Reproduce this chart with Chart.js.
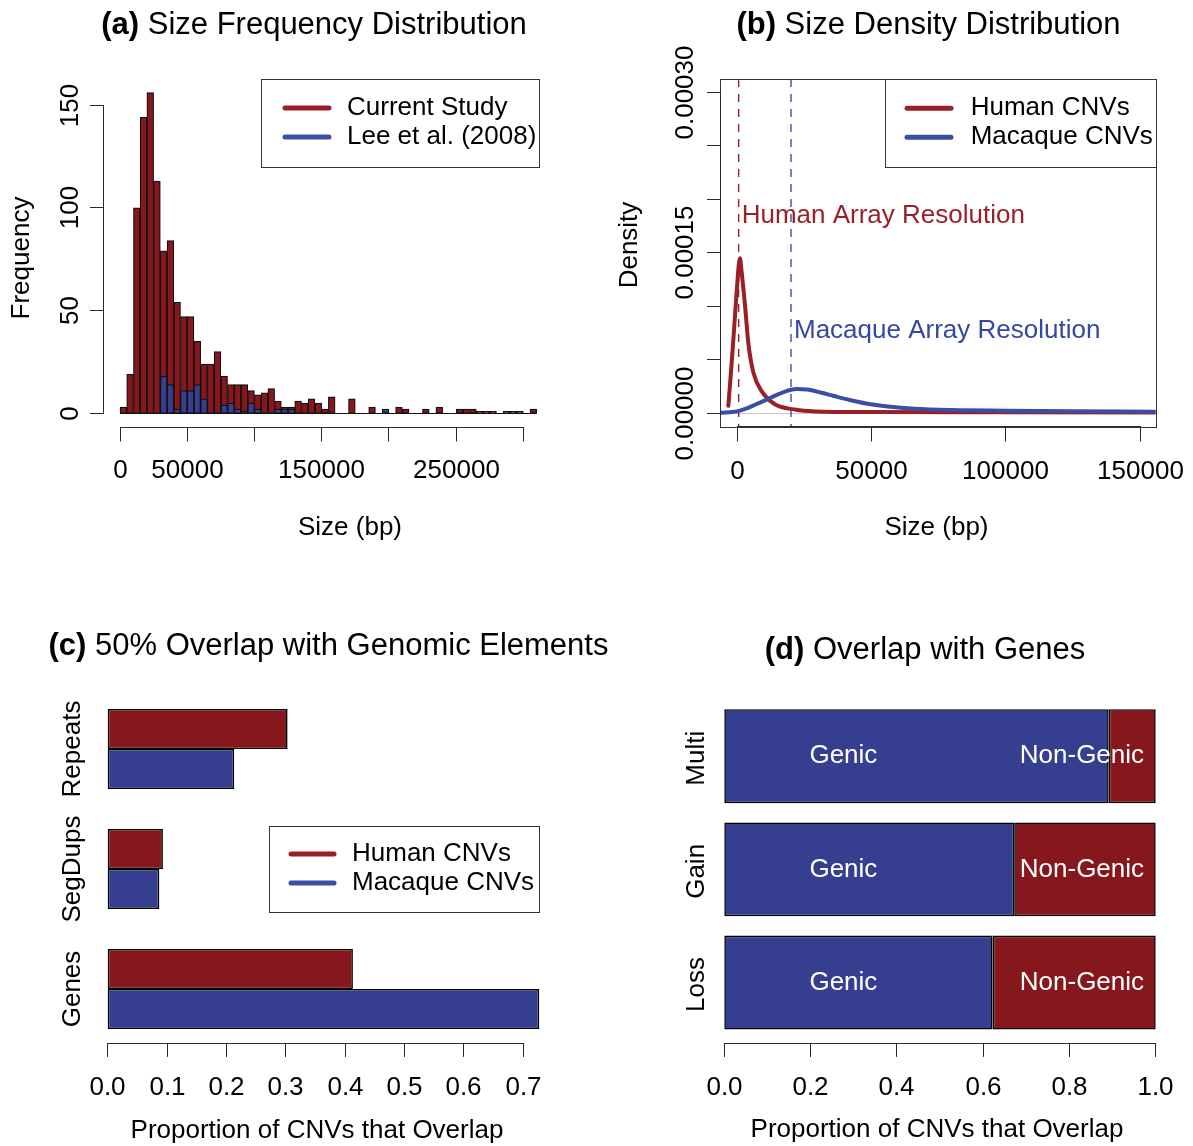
<!DOCTYPE html>
<html><head><meta charset="utf-8">
<script src="https://cdn.jsdelivr.net/npm/chart.js@4.4.0/dist/chart.umd.min.js"></script>
<style>
html,body{margin:0;padding:0;background:#fff;}
#wrap{position:relative;width:1193px;height:1146px;overflow:hidden;}
canvas{position:absolute;left:0;top:0;}
</style></head><body>
<div id="wrap">
<canvas id="ca" width="1193" height="1146"></canvas>
<canvas id="cb" width="1193" height="1146"></canvas>
<canvas id="cc" width="1193" height="1146"></canvas>
<canvas id="cd" width="1193" height="1146"></canvas>
</div>
<script>
// ---------------- DATA ----------------
// (a) histogram, 5 kb bins starting at 0
const binWidth = 5000;
const currentStudyCounts = [3,19,100,144,156,113,79,84,54,47,47,35,24,24,30,18,14,14,14,11,9,10,12,6,3,3,6,5,7,5,2,8,0,0,7,0,0,3,0,0,0,3,2,0,0,2,0,3,0,0,2,2,2,1,1,1,0,1,1,1,0,2];
const leeCounts          = [0,0,0,0,0,0,18,14,2,11,11,14,7,0,0,4,5,2,1,5,2,0,0,2,2,2,0,0,0,0,0,0,0,0,0,0,0,0,0,2,0,0,0,0,0,0,0,0,0,0,0,0,0,0,0,0,0,0,0,0,0,0];
const histXTicks = [0,50000,100000,150000,200000,250000,300000];
const histXLabels = ['0','50000','','150000','','250000',''];
const histYTicks = [0,50,100,150];
const histYLabels = ['0','50','100','150'];

// (b) density curves
const humanDensX = [-3350,-2400,-1500,-200,600,1000,1500,2900,4100,6000,9000,14000,21500,29000,50000,100000,155770];
const humanDensY = [0.000007,0.000037,0.000068,0.000115,0.00014,0.000145,0.000135,0.0001,0.000066,0.000038,0.000021,0.0000085,0.0000035,0.0000018,0.0000012,0.000001,0.0000008];
const macaqueDensX = [-6444,0,3500,7000,11000,15000,18500,22000,26000,31000,36000,41500,48000,56000,66000,80000,100000,125000,155770];
const macaqueDensY = [0.0000006,0.0000018,0.0000045,0.0000085,0.0000128,0.0000175,0.000021,0.0000228,0.0000222,0.0000195,0.0000162,0.0000127,0.0000092,0.0000064,0.0000042,0.000003,0.0000025,0.000002,0.0000015];
const humanResolution = 500;
const macaqueResolution = 20000;
const densXTicks = [0,50000,100000,150000];
const densXLabels = ['0','50000','100000','150000'];
const densYTicks = [0,0.00005,0.0001,0.00015,0.0002,0.00025,0.0003];
const densYLabels = ['0.00000','','','0.00015','','','0.00030'];

// (c) overlap with genomic elements
const elementCategories = ['Repeats','SegDups','Genes'];
const humanOverlap = [0.303,0.093,0.413];
const macaqueOverlap = [0.213,0.087,0.727];
const elementTicks = [0,0.1,0.2,0.3,0.4,0.5,0.6,0.7];

// (d) overlap with genes
const geneCategories = ['Multi','Gain','Loss'];
const genicShare = [0.891,0.672,0.622];
const nonGenicShare = [0.109,0.328,0.378];
const geneTicks = [0,0.2,0.4,0.6,0.8,1.0];

// ---------------- STYLE ----------------
const FONT = '"Liberation Sans", Arial, Helvetica, sans-serif';
const RED_BAR = '#86181d', BLUE_BAR = '#363f8f';
const RED_LINE = '#9b1f27', BLUE_LINE = '#3a4ea6';
const RED_TEXT = '#9a2026', BLUE_TEXT = '#3548a0';
const AX = '#2a2a2a';
const W = 1193, H = 1146;

function snap(v){ return Math.round(v - 0.5) + 0.5; }
function txt(ctx, s, x, y, o){
  o = o || {};
  ctx.save();
  ctx.font = (o.bold ? 'bold ' : '') + (o.size || 26) + 'px ' + FONT;
  ctx.fillStyle = o.color || '#000';
  ctx.textAlign = o.align || 'center';
  ctx.textBaseline = o.baseline || 'middle';
  ctx.translate(x, y);
  if (o.rot) ctx.rotate(o.rot);
  ctx.fillText(s, 0, 0);
  ctx.restore();
}
function seg(ctx, x1, y1, x2, y2, color, w, dash, cap){
  ctx.save();
  ctx.strokeStyle = color || AX;
  ctx.lineWidth = w || 1;
  ctx.lineCap = cap || 'butt';
  if (dash) ctx.setLineDash(dash);
  ctx.beginPath(); ctx.moveTo(x1, y1); ctx.lineTo(x2, y2); ctx.stroke();
  ctx.restore();
}
function panelTitle(ctx, tag, rest, cx, cy){
  const size = 31;
  ctx.save();
  ctx.font = 'bold ' + size + 'px ' + FONT; const w1 = ctx.measureText(tag).width;
  ctx.font = size + 'px ' + FONT; const w2 = ctx.measureText(' ' + rest).width;
  ctx.restore();
  const x0 = cx - (w1 + w2) / 2;
  txt(ctx, tag, x0, cy, {size: size, bold: true, align: 'left'});
  txt(ctx, ' ' + rest, x0 + w1, cy, {size: size, align: 'left'});
}
function xAxis(ctx, scale, ticks, labels, yLine, tickLen, labelY){
  const x1 = scale.getPixelForValue(ticks[0]), x2 = scale.getPixelForValue(ticks[ticks.length - 1]);
  const yl = snap(yLine);
  seg(ctx, snap(x1) - 0.5, yl, snap(x2) + 0.5, yl);
  ticks.forEach(function(t, i){
    const x = snap(scale.getPixelForValue(t));
    seg(ctx, x, yl, x, yl + tickLen);
    if (labels[i]) txt(ctx, labels[i], x, labelY);
  });
}
function yAxis(ctx, scale, ticks, labels, xLine, tickLen, labelX){
  const y1 = scale.getPixelForValue(ticks[0]), y2 = scale.getPixelForValue(ticks[ticks.length - 1]);
  const xl = snap(xLine);
  seg(ctx, xl, snap(y1) + 0.5, xl, snap(y2) - 0.5);
  ticks.forEach(function(t, i){
    const y = snap(scale.getPixelForValue(t));
    seg(ctx, xl, y, xl - tickLen, y);
    if (labels[i]) txt(ctx, labels[i], labelX, y, {rot: -Math.PI / 2});
  });
}
function legendBox(ctx, x1, y1, x2, y2, items, lx1, lx2, tx){
  ctx.save();
  ctx.fillStyle = '#fff';
  ctx.fillRect(x1, y1, x2 - x1, y2 - y1);
  ctx.strokeStyle = '#333'; ctx.lineWidth = 1;
  ctx.strokeRect(snap(x1), snap(y1), Math.round(x2 - x1), Math.round(y2 - y1));
  ctx.restore();
  items.forEach(function(it){
    seg(ctx, lx1, it.y, lx2, it.y, it.color, 5, null, 'round');
    txt(ctx, it.label, tx, it.y, {align: 'left'});
  });
}
function baseOpts(pad){
  return {
    responsive: false, animation: false, events: [],
    layout: {padding: pad},
    plugins: {legend: {display: false}, tooltip: {enabled: false}, title: {display: false}}
  };
}

// ---------------- (a) Size Frequency Distribution ----------------
const histCenters = currentStudyCounts.map(function(_, i){ return (i + 0.5) * binWidth; });
const optsA = baseOpts({left: 120, right: W - 523.3, top: 105, bottom: H - 413.3});
optsA.scales = {
  x: {type: 'linear', min: 0, max: 300000, offset: false, display: false},
  y: {type: 'linear', min: 0, max: 150, display: false}
};
new Chart(document.getElementById('ca'), {
  type: 'bar',
  data: {datasets: [
    {label: 'Lee et al. (2008)', data: leeCounts.map(function(v, i){ return {x: histCenters[i], y: v}; }),
     backgroundColor: BLUE_BAR, borderColor: '#111', borderWidth: 1.2, borderSkipped: false,
     grouped: false, order: 0, barPercentage: 1, categoryPercentage: 1, clip: false},
    {label: 'Current Study', data: currentStudyCounts.map(function(v, i){ return {x: histCenters[i], y: v}; }),
     backgroundColor: RED_BAR, borderColor: '#111', borderWidth: 1.2, borderSkipped: false,
     grouped: false, order: 1, barPercentage: 1, categoryPercentage: 1, clip: false}
  ]},
  options: optsA,
  plugins: [{
    id: 'decorA',
    afterDatasetsDraw: function(chart){
      const ctx = chart.ctx, sx = chart.scales.x, sy = chart.scales.y;
      const y0 = snap(sy.getPixelForValue(0));
      seg(ctx, sx.getPixelForValue(0), y0, sx.getPixelForValue(currentStudyCounts.length * binWidth), y0, '#111', 1.2);
    },
    afterDraw: function(chart){
      const ctx = chart.ctx, sx = chart.scales.x, sy = chart.scales.y;
      panelTitle(ctx, '(a)', 'Size Frequency Distribution', 314, 25);
      xAxis(ctx, sx, histXTicks, histXLabels, 427, 14, 471);
      yAxis(ctx, sy, histYTicks, histYLabels, 103.3, 13.5, 71);
      txt(ctx, 'Size (bp)', 350, 528);
      txt(ctx, 'Frequency', 22, 258, {rot: -Math.PI / 2});
      legendBox(ctx, 261.5, 79, 539, 167, [
        {label: 'Current Study', color: RED_LINE, y: 108},
        {label: 'Lee et al. (2008)', color: BLUE_LINE, y: 137}
      ], 285, 329, 347);
    }
  }]
});

// ---------------- (b) Size Density Distribution ----------------
const optsB = baseOpts({left: 720, right: W - 1155.5, top: 79, bottom: H - 426.7});
optsB.scales = {
  x: {type: 'linear', min: -6444, max: 155770, display: false},
  y: {type: 'linear', min: -0.00001252, max: 0.00031243, display: false}
};
optsB.elements = {point: {radius: 0}};
new Chart(document.getElementById('cb'), {
  type: 'line',
  data: {datasets: [
    {label: 'Macaque CNVs', data: macaqueDensX.map(function(x, i){ return {x: x, y: macaqueDensY[i]}; }),
     borderColor: BLUE_LINE, borderWidth: 4, fill: false, cubicInterpolationMode: 'monotone',
     borderCapStyle: 'round', borderJoinStyle: 'round', order: 0},
    {label: 'Human CNVs', data: humanDensX.map(function(x, i){ return {x: x, y: humanDensY[i]}; }),
     borderColor: RED_LINE, borderWidth: 4, fill: false, cubicInterpolationMode: 'monotone',
     borderCapStyle: 'round', borderJoinStyle: 'round', order: 1}
  ]},
  options: optsB,
  plugins: [{
    id: 'decorB',
    beforeDatasetsDraw: function(chart){
      const ctx = chart.ctx, sx = chart.scales.x, sy = chart.scales.y, a = chart.chartArea;
      const y0 = snap(sy.getPixelForValue(0));
      seg(ctx, a.left, y0, a.right, y0, '#c8c8c8', 1);
      const xr = sx.getPixelForValue(humanResolution), xm = sx.getPixelForValue(macaqueResolution);
      seg(ctx, xr, a.top, xr, a.bottom, RED_LINE, 1.4, [8, 7]);
      seg(ctx, xm, a.top, xm, a.bottom, BLUE_LINE, 1.4, [8, 7]);
    },
    afterDraw: function(chart){
      const ctx = chart.ctx, sx = chart.scales.x, sy = chart.scales.y, a = chart.chartArea;
      panelTitle(ctx, '(b)', 'Size Density Distribution', 928.5, 25);
      ctx.save(); ctx.strokeStyle = '#333'; ctx.lineWidth = 1;
      ctx.strokeRect(snap(a.left), snap(a.top), Math.round(a.right - a.left), Math.round(a.bottom - a.top));
      ctx.restore();
      xAxis(ctx, sx, densXTicks, densXLabels, a.bottom, 15, 471.5);
      yAxis(ctx, sy, densYTicks, densYLabels, a.left, 13.5, 686);
      txt(ctx, 'Size (bp)', 936.5, 528);
      txt(ctx, 'Density', 630, 245, {rot: -Math.PI / 2});
      txt(ctx, 'Human Array Resolution', sx.getPixelForValue(humanResolution) + 3, sy.getPixelForValue(0.000185), {align: 'left', color: RED_TEXT});
      txt(ctx, 'Macaque Array Resolution', sx.getPixelForValue(macaqueResolution) + 3, sy.getPixelForValue(0.0000775), {align: 'left', color: BLUE_TEXT});
      legendBox(ctx, 885, 79, 1155.5, 166.7, [
        {label: 'Human CNVs', color: RED_LINE, y: 108.3},
        {label: 'Macaque CNVs', color: BLUE_LINE, y: 137.3}
      ], 907, 951, 970.7);
    }
  }]
});

// ---------------- (c) 50% Overlap with Genomic Elements ----------------
const optsC = baseOpts({left: 107.7, right: W - 523.3, top: 689, bottom: H - 1049});
optsC.indexAxis = 'y';
optsC.scales = {
  x: {type: 'linear', min: 0, max: 0.7, display: false},
  y: {type: 'category', display: false}
};
new Chart(document.getElementById('cc'), {
  type: 'bar',
  data: {labels: elementCategories, datasets: [
    {label: 'Human CNVs', data: humanOverlap, backgroundColor: RED_BAR, borderColor: '#000', borderWidth: 1.6,
     borderSkipped: false, categoryPercentage: 2 / 3, barPercentage: 1, clip: false},
    {label: 'Macaque CNVs', data: macaqueOverlap, backgroundColor: BLUE_BAR, borderColor: '#000', borderWidth: 1.6,
     borderSkipped: false, categoryPercentage: 2 / 3, barPercentage: 1, clip: false}
  ]},
  options: optsC,
  plugins: [{
    id: 'decorC',
    afterDraw: function(chart){
      const ctx = chart.ctx, sx = chart.scales.x, sy = chart.scales.y;
      panelTitle(ctx, '(c)', '50% Overlap with Genomic Elements', 328.5, 646);
      xAxis(ctx, sx, elementTicks, elementTicks.map(function(t){ return t.toFixed(1); }), 1043.3, 13.4, 1087.5);
      elementCategories.forEach(function(c, i){
        txt(ctx, c, 73, sy.getPixelForValue(i), {rot: -Math.PI / 2});
      });
      txt(ctx, 'Proportion of CNVs that Overlap', 317, 1131);
      legendBox(ctx, 269, 826, 539, 912, [
        {label: 'Human CNVs', color: RED_LINE, y: 854},
        {label: 'Macaque CNVs', color: BLUE_LINE, y: 883}
      ], 291, 334, 352);
    }
  }]
});

// ---------------- (d) Overlap with Genes ----------------
const optsD = baseOpts({left: 724.3, right: W - 1155.7, top: 699.6, bottom: H - 1039.1});
optsD.indexAxis = 'y';
optsD.scales = {
  x: {type: 'linear', stacked: true, min: 0, max: 1, display: false},
  y: {type: 'category', stacked: true, display: false}
};
new Chart(document.getElementById('cd'), {
  type: 'bar',
  data: {labels: geneCategories, datasets: [
    {label: 'Genic', data: genicShare, backgroundColor: BLUE_BAR, borderColor: '#000', borderWidth: 1.6,
     borderSkipped: false, categoryPercentage: 0.83, barPercentage: 1, clip: false},
    {label: 'Non-Genic', data: nonGenicShare, backgroundColor: RED_BAR, borderColor: '#000', borderWidth: 1.6,
     borderSkipped: false, categoryPercentage: 0.83, barPercentage: 1, clip: false}
  ]},
  options: optsD,
  plugins: [{
    id: 'decorD',
    afterDraw: function(chart){
      const ctx = chart.ctx, sx = chart.scales.x, sy = chart.scales.y;
      panelTitle(ctx, '(d)', 'Overlap with Genes', 925, 650);
      xAxis(ctx, sx, geneTicks, geneTicks.map(function(t){ return t.toFixed(1); }), 1043.3, 13.4, 1088);
      geneCategories.forEach(function(c, i){
        const y = sy.getPixelForValue(i);
        txt(ctx, c, 697, y + 2, {rot: -Math.PI / 2});
        txt(ctx, 'Genic', sx.getPixelForValue(0.276), y, {color: '#fff'});
        txt(ctx, 'Non-Genic', sx.getPixelForValue(0.829), y, {color: '#fff'});
      });
      txt(ctx, 'Proportion of CNVs that Overlap', 937, 1130);
    }
  }]
});
</script>
</body></html>
